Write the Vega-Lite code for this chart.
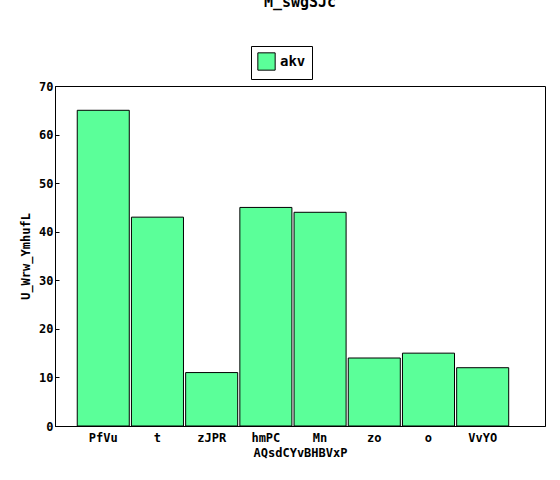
{"$schema":"https://vega.github.io/schema/vega-lite/v6.json","width":490,"height":340,"padding":{"left":55,"top":86,"right":15,"bottom":54},
"autosize":{"type":"none"},
"title":{"text":"M_swgSJc","font":"DejaVu Sans Mono","fontSize":15,"fontWeight":"bold","offset":36,"color":"black"},
"data":{"values":[{"c":"PfVu","v":65,"s":"akv"},{"c":"t","v":43,"s":"akv"},{"c":"zJPR","v":11,"s":"akv"},{"c":"hmPC","v":45,"s":"akv"},{"c":"Mn","v":44,"s":"akv"},{"c":"zo","v":14,"s":"akv"},{"c":"o","v":15,"s":"akv"},{"c":"VvYO","v":12,"s":"akv"}]},
"config":{"view":{"stroke":"black"},"axis":{"labelFont":"DejaVu Sans Mono","titleFont":"DejaVu Sans Mono","labelFontSize":12,"titleFontSize":12,"labelFontWeight":"bold","titleFontWeight":"bold","labelColor":"black","titleColor":"black","domainColor":"black","tickColor":"black","grid":false,"tickSize":-4}},
"mark":{"type":"bar","fill":"#5bff99","stroke":"black","strokeWidth":1},
"encoding":{
"x":{"field":"c","type":"nominal","sort":null,"title":"AQsdCYvBHBVxP","scale":{"paddingInner":0.04,"paddingOuter":0.54,"align":0.38},"axis":{"labelAngle":0,"labelPadding":6,"ticks":false,"titlePadding":4}},
"y":{"field":"v","type":"quantitative","title":"U_Wrw_YmhufL","scale":{"domain":[0,70]},"axis":{"values":[0,10,20,30,40,50,60,70],"labelPadding":6,"titlePadding":6}},
"fill":{"field":"s","type":"nominal","scale":{"range":["#5bff99"]},"legend":{"title":null,"orient":"none","legendX":196,"legendY":-40,"symbolType":"square","symbolSize":300,"labelFont":"DejaVu Sans Mono","labelFontSize":14,"labelFontWeight":"bold","labelColor":"black","strokeColor":"black","padding":6,"symbolStrokeColor":"black","symbolStrokeWidth":1}}
},
"background":"white"
}
